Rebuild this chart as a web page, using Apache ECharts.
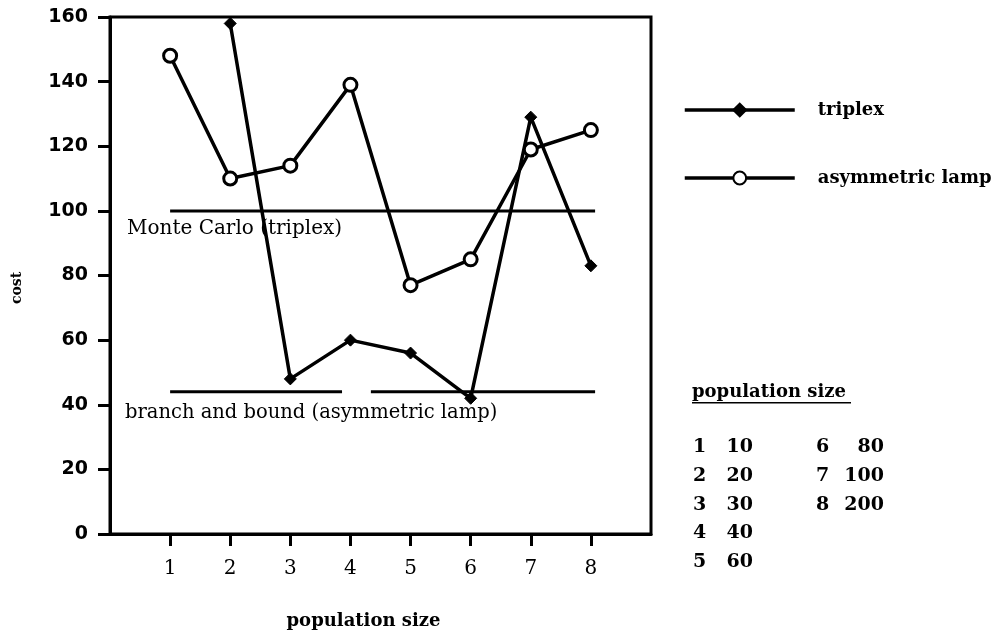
<!DOCTYPE html>
<html><head><meta charset="utf-8">
<script src="https://cdn.jsdelivr.net/npm/echarts@6/dist/echarts.min.js"></script>
<style>html,body{margin:0;padding:0;background:#fff}#c{width:992px;height:634px}</style>
</head><body><div id="c"></div>
<script>
// ---- data ----
const popIndex = [1, 2, 3, 4, 5, 6, 7, 8];
const popSizes = [10, 20, 30, 40, 60, 80, 100, 200];
const triplex = [null, 158, 48, 60, 56, 42, 129, 83];
const asymLamp = [148, 110, 114, 139, 77, 85, 119, 125];
const monteCarloCost = 100;
const monteCarloSpan = [1, 8.07];
const branchBoundCost = 44;
const branchBoundSpans = [[1, 3.86], [4.34, 8.07]];
const seriesNames = ['triplex', 'asymmetric lamp'];

const serif = '"DejaVu Serif", "Liberation Serif", serif';
const ink = '#000';
const lw = 3.5;

const triData = popIndex.map((x, i) => [x, triplex[i]]).filter(d => d[1] != null);
const asymData = popIndex.map((x, i) => [x, asymLamp[i]]);

const refSeries = [];
refSeries.push({
  type: 'line', data: monteCarloSpan.map(x => [x, monteCarloCost]),
  symbol: 'none', lineStyle: { color: ink, width: 3 }, silent: true, z: 1
});
branchBoundSpans.forEach(s => refSeries.push({
  type: 'line', data: s.map(x => [x, branchBoundCost]),
  symbol: 'none', lineStyle: { color: ink, width: 3 }, silent: true, z: 1
}));

// population size table
const tableGraphics = [
  { type: 'text', left: 692, top: 383, style: { text: 'population size', font: 'bold 18px ' + serif, fill: ink } },
  { type: 'rect', left: 692, top: 402, shape: { width: 159, height: 1.5 }, style: { fill: ink } }
];
popIndex.forEach((k, i) => {
  const col = i < 5 ? 0 : 1;
  const row = i < 5 ? i : i - 5;
  const y = 438 + row * 28.6;
  const kx = col === 0 ? 693 : 816;
  const vx = col === 0 ? 753 : 884;
  tableGraphics.push({ type: 'text', x: kx, y: y, style: { text: String(k), font: 'bold 19px ' + serif, fill: ink } });
  tableGraphics.push({ type: 'text', x: vx, y: y, style: { text: String(popSizes[i]), font: 'bold 19px ' + serif, fill: ink, align: 'right' } });
});

const chart = echarts.init(document.getElementById('c'), null, { renderer: 'canvas' });
chart.setOption({
  backgroundColor: '#fff',
  animation: false,
  grid: { left: 110, top: 17, right: 341, bottom: 100, outerBoundsMode: 'none', containLabel: false, show: true, borderColor: ink, borderWidth: 3, backgroundColor: 'transparent' },
  legend: {
    orient: 'vertical', left: 678, top: 96, itemWidth: 110, itemHeight: 16, itemGap: 50,
    data: seriesNames,
    lineStyle: { width: 3.5 },
    textStyle: { color: ink, fontFamily: serif, fontSize: 18, fontWeight: 'bold', padding: [0, 0, 0, 18] }
  },
  xAxis: {
    type: 'value', min: 0, max: 9, interval: 1,
    name: 'population size', nameLocation: 'middle', nameGap: 78,
    nameTextStyle: { fontFamily: serif, fontSize: 18, fontWeight: 'bold', color: ink, padding: [0, 34, 0, 0] },
    axisLine: { lineStyle: { color: ink, width: 3 } },
    axisTick: { show: true, length: 12, lineStyle: { color: ink, width: 3 }, customValues: popIndex },
    axisLabel: { customValues: popIndex, fontFamily: serif, fontSize: 20, color: ink, margin: 25 },
    splitLine: { show: false }
  },
  yAxis: {
    type: 'value', min: 0, max: 160, interval: 20,
    axisLine: { show: true, lineStyle: { color: ink, width: 3 } },
    axisTick: { show: true, length: 12, lineStyle: { color: ink, width: 3 } },
    axisLabel: { fontFamily: '"DejaVu Sans", sans-serif', fontWeight: 'bold', fontSize: 19, color: ink, margin: 22 },
    splitLine: { show: false }
  },
  series: refSeries.concat([
    {
      name: seriesNames[0], type: 'line', data: triData,
      symbol: 'diamond', symbolSize: 12, showSymbol: true,
      lineStyle: { color: ink, width: lw }, itemStyle: { color: ink, borderColor: ink, borderWidth: 1 }, z: 3
    },
    {
      name: seriesNames[1], type: 'line', data: asymData,
      symbol: 'circle', symbolSize: 13, showSymbol: true,
      lineStyle: { color: ink, width: lw }, itemStyle: { color: '#fff', borderColor: ink, borderWidth: 3 }, z: 4
    }
  ]),
  graphic: [
    { type: 'text', left: 127, top: 219, style: { text: 'Monte Carlo (triplex)', font: '20px ' + serif, fill: ink } },
    { type: 'text', left: 125, top: 403, style: { text: 'branch and bound (asymmetric lamp)', font: '19.5px ' + serif, fill: ink } },
    { type: 'text', x: 10, y: 304, rotation: Math.PI / 2, style: { text: 'cost', font: 'bold 14px ' + serif, fill: ink } }
  ].concat(tableGraphics)
});
</script>
</body></html>
